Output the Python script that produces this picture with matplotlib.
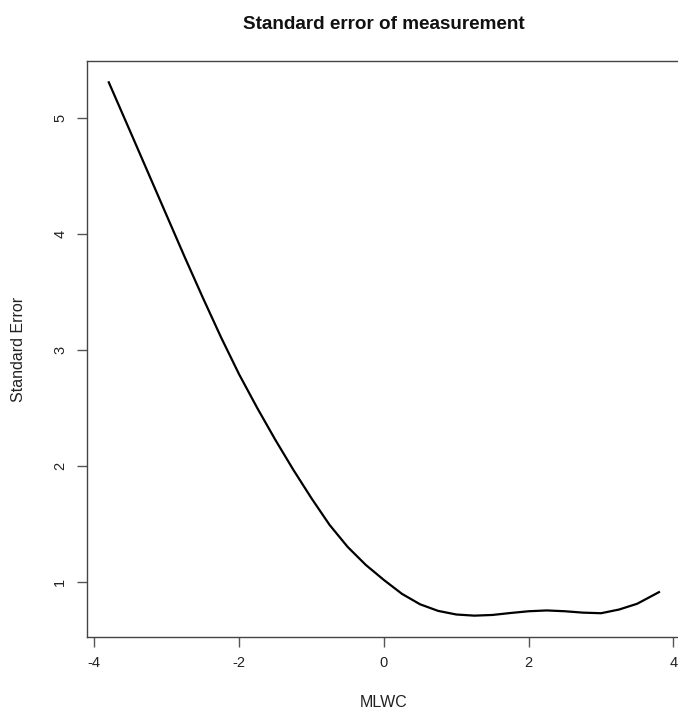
import matplotlib
matplotlib.use("Agg")
import matplotlib.pyplot as plt

plt.rcParams['font.family'] = ['Liberation Sans', 'DejaVu Sans']
plt.rcParams['axes.unicode_minus'] = False

# theta grid and standard error
theta = [-3.8, -3.5, -3.25, -3.0, -2.75, -2.5, -2.25, -2.0, -1.75, -1.5,
         -1.25, -1.0, -0.75, -0.5, -0.25, 0.0, 0.25, 0.5, 0.75, 1.0,
         1.25, 1.5, 1.75, 2.0, 2.25, 2.5, 2.75, 3.0, 3.25, 3.5, 3.8]
se = [5.31, 4.88, 4.52, 4.16, 3.80, 3.45, 3.11, 2.79, 2.50, 2.225,
      1.965, 1.72, 1.49, 1.30, 1.145, 1.015, 0.895, 0.805, 0.748, 0.717,
      0.707, 0.713, 0.73, 0.745, 0.752, 0.745, 0.733, 0.728, 0.76, 0.81, 0.91]

xticks = [-4, -2, 0, 2, 4]
yticks = [1, 2, 3, 4, 5]

fig = plt.figure(figsize=(6.78, 7.11), dpi=100)
ax = fig.add_axes([0.128, 0.1041, 0.8764, 0.8101])

ax.plot(theta, se, color='black', lw=1.6)

# R style: 4% padding
xr = max(theta) - min(theta)
yr = max(se) - min(se)
ax.set_xlim(min(theta) - 0.04 * xr, max(theta) + 0.04 * xr)
ax.set_ylim(min(se) - 0.04 * yr, max(se) + 0.04 * yr)

ax.set_xticks(xticks)
ax.set_yticks(yticks)
ax.set_yticklabels([str(v) for v in yticks], rotation=90, va='center')
ax.tick_params(direction='out', length=7, width=1, color='#555555',
               labelsize=10.5, labelcolor='#222222', pad=7)
for s in ax.spines.values():
    s.set_color('#444444')
    s.set_linewidth(1)

ax.set_xlabel('MLWC', fontsize=11.5, color='#222222', labelpad=18)
ax.set_ylabel('Standard Error', fontsize=11.5, color='#222222', labelpad=20)
fig.text(0.566, 0.965, 'Standard error of measurement', ha='center', va='center',
         fontsize=13.6, fontweight='bold', color='#111111')

fig.savefig('out.png', dpi=100)
